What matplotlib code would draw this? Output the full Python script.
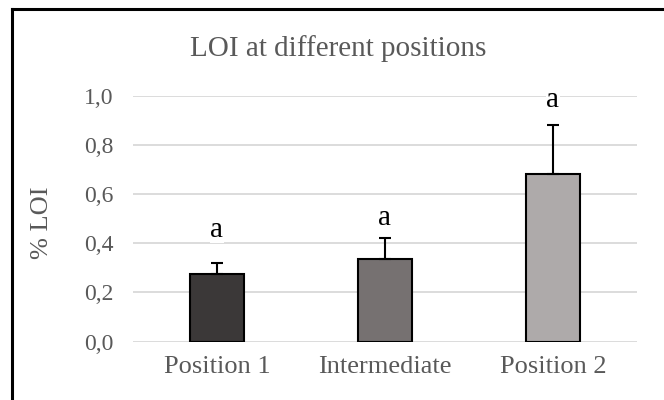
import matplotlib
matplotlib.use("Agg")
import matplotlib.pyplot as plt
from matplotlib.lines import Line2D


# Data
categories = ["Position 1", "Intermediate", "Position 2"]
loi_mean = [0.275, 0.335, 0.68]
loi_err = [0.045, 0.085, 0.20]
letters = ["a", "a", "a"]
letter_y = [0.454, 0.503, 0.983]
bar_colors = ["#3b3838", "#767171", "#aeaaaa"]
yticks = [0.0, 0.2, 0.4, 0.6, 0.8, 1.0]

text_gray = "#595959"
plt.rcParams["font.family"] = ["Liberation Serif", "DejaVu Serif"]

fig = plt.figure(figsize=(6.64, 4.0), dpi=100)
ax = fig.add_axes([0.2003, 0.1458, 0.759, 0.615])

x = list(range(len(categories)))

# Bars with upward-only error bars
ax.bar(x, loi_mean, width=0.32, color=bar_colors, edgecolor="black",
       linewidth=1.5, zorder=3)
ax.errorbar(x, loi_mean, yerr=[[0] * len(loi_err), loi_err], fmt="none",
            ecolor="black", elinewidth=1.5, capsize=4.5, capthick=1.5,
            zorder=4)

# Significance letters
for xi, yi, s in zip(x, letter_y, letters):
    ax.text(xi, yi, s, ha="center", va="center", fontsize=21, color="black",
            zorder=5, bbox=dict(facecolor="white", edgecolor="none", pad=0.3))

ax.set_xlim(-0.5, len(categories) - 0.5)
ax.set_ylim(0, 1.0)
ax.set_yticks(yticks)
ax.set_yticklabels([f"{t:.1f}".replace(".", ",") for t in yticks])
ax.set_xticks(x)
ax.set_xticklabels(categories)
ax.tick_params(axis="both", length=0, colors=text_gray)
ax.tick_params(axis="y", pad=14, labelsize=17)
ax.tick_params(axis="x", pad=10, labelsize=19)

ax.grid(axis="y", color="#d9d9d9", linewidth=1.3, zorder=0)
ax.set_axisbelow(True)
for side in ax.spines:
    ax.spines[side].set_visible(False)

# Titles
fig.text(338.5 / 664, 1 - 56 / 400, "LOI at different positions",
         ha="center", va="baseline", fontsize=21, color=text_gray)
fig.text(42 / 664, 1 - 223 / 400, "% LOI", rotation=90,
         ha="center", va="center", fontsize=19, color=text_gray)

# Chart frame (top and left edges)
fig.add_artist(Line2D([12 / 664, 12 / 664], [0, 1 - 9 / 400],
                      transform=fig.transFigure, color="black", linewidth=2.2))
fig.add_artist(Line2D([12 / 664, 1], [1 - 9 / 400, 1 - 9 / 400],
                      transform=fig.transFigure, color="black", linewidth=2.2))

fig.savefig("out.png", dpi=100)
